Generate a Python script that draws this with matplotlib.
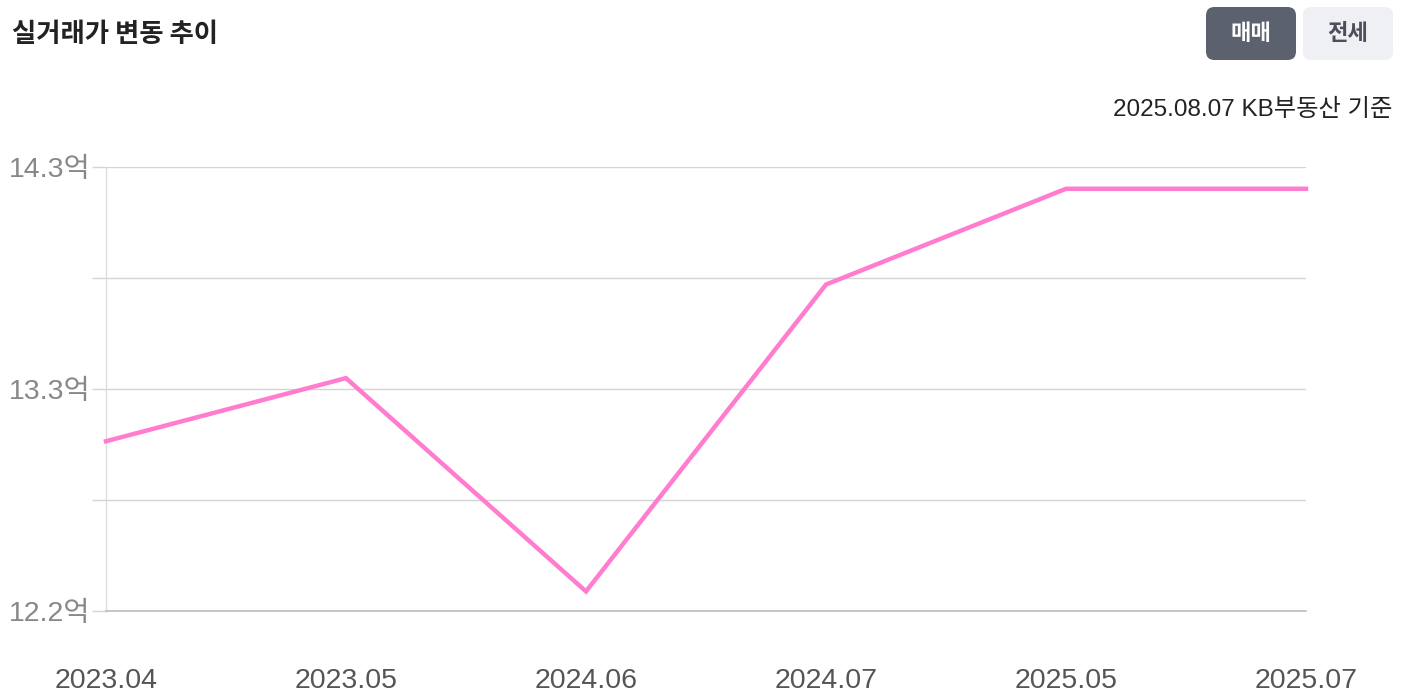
import matplotlib
matplotlib.use("Agg")
import matplotlib.pyplot as plt
from matplotlib.patches import FancyBboxPatch

periods = ["2023.04", "2023.05", "2024.06", "2024.07", "2025.05", "2025.07"]
prices = [13.02, 13.31, 12.33, 13.74, 14.18, 14.18]  # 억
y_ticks = [12.24, 12.75, 13.26, 13.77, 14.28]
y_labels = ["12.2억", "", "13.3억", "", "14.3억"]

FONT = ["Liberation Sans", "Noto Sans CJK KR", "DejaVu Sans"]
KFONT = ["Noto Sans CJK KR", "DejaVu Sans"]

fig = plt.figure(figsize=(14.04, 6.98), dpi=100)
ax = fig.add_axes([106/1404, 1-611/698, 1200/1404, 444/698])

x = list(range(len(periods)))
ax.plot(x, prices, color="#ff7ccf", linewidth=3.2, solid_joinstyle="miter", zorder=3, clip_on=False)

ax.set_xlim(0, len(periods)-1)
ax.set_ylim(y_ticks[0], y_ticks[-1])
ax.set_yticks(y_ticks)
ax.set_yticklabels(y_labels, fontfamily=FONT, fontsize=20.5, color="#888888")
ax.set_xticks(x)
ax.set_xticklabels(periods, fontfamily=FONT, fontsize=20.5, color="#555555")
ax.tick_params(axis="y", length=10, width=1, color="#d4d4d4", pad=1)
ax.tick_params(axis="x", length=0, pad=41)
ax.grid(axis="y", color="#d4d4d4", linewidth=1)
for s in ["top", "right"]:
    ax.spines[s].set_visible(False)
ax.spines["left"].set_color("#dedede")
ax.spines["left"].set_linewidth(1)
ax.spines["bottom"].set_color("#bdbdbd")
ax.spines["bottom"].set_linewidth(1.2)

fig.text(12/1404, 1-34/698, "실거래가 변동 추이", fontfamily=KFONT, fontsize=19,
         fontweight="bold", color="#222222", va="center", ha="left")

def button(x0, x1, y0, y1, face, text, tcolor):
    p = FancyBboxPatch((x0/1404, 1-y1/698), (x1-x0)/1404, (y1-y0)/698,
                       boxstyle="round,pad=0,rounding_size=0.006",
                       transform=fig.transFigure, facecolor=face, edgecolor="none",
                       mutation_aspect=1404/698)
    fig.patches.append(p)
    fig.text((x0+x1)/2/1404, 1-(y0+y1)/2/698, text, fontfamily=KFONT, fontsize=16,
             fontweight="bold", color=tcolor, ha="center", va="center")

button(1206, 1296, 7, 60, "#5b616d", "매매", "white")
button(1303, 1393, 7, 60, "#eff0f3", "전세", "#4a4f59")

fig.text(1392/1404, 1-110/698, "2025.08.07 KB부동산 기준", fontfamily=FONT, fontsize=17.5,
         color="#222222", ha="right", va="center")

fig.savefig("out.png", dpi=100)
